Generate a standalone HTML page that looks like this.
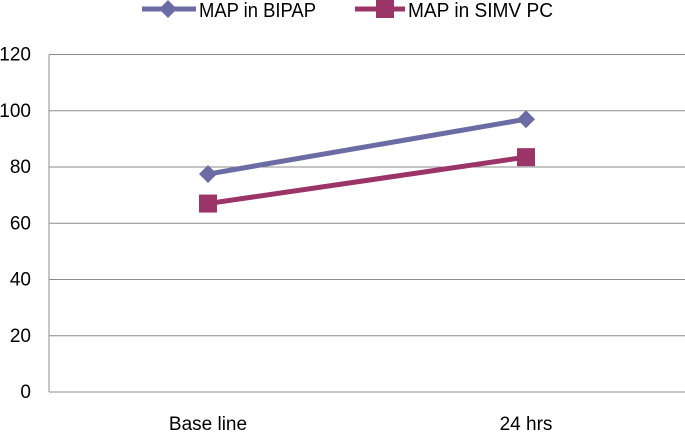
<!DOCTYPE html>
<html><head><meta charset="utf-8"><style>
body{margin:0;background:#fff;}
svg{display:block;font-family:"Liberation Sans",sans-serif;}
</style></head><body>
<svg id="chart" width="685" height="432" viewBox="0 0 685 432" xmlns="http://www.w3.org/2000/svg">
<g id="legend">
  <g>
    <line x1="142" y1="9" x2="196" y2="9" stroke="#6B6CA3" stroke-width="5"/>
    <path d="M168 0 L177 9 L168 18 L159 9 Z" fill="#6B6CA3"/>
    <text x="199" y="17" font-size="20" fill="#000" textLength="117" lengthAdjust="spacingAndGlyphs">MAP in BIPAP</text>
  </g>
  <g>
    <line x1="355" y1="9" x2="405" y2="9" stroke="#9B3467" stroke-width="5"/>
    <rect x="376" y="0" width="18" height="18" fill="#9B3467"/>
    <text x="408" y="17" font-size="20" fill="#000" textLength="145" lengthAdjust="spacingAndGlyphs">MAP in SIMV PC</text>
  </g>
</g>
<g id="grid"></g>
<g id="series"></g>
</svg>
<script>
const categories = ["Base line", "24 hrs"];
const bipapValues = [77.5, 97];
const simvValues = [67, 83.5];
const yTicks = [0, 20, 40, 60, 80, 100, 120];

const plotLeft = 49, plotRight = 685, plotTop = 54.5, plotBottom = 392;
const yMax = 120;
function yScale(v){ return plotBottom - (v / yMax) * (plotBottom - plotTop); }
function xScale(i){ return plotLeft + (i + 0.5) * (plotRight - plotLeft) / categories.length; }
const NS = "http://www.w3.org/2000/svg";
function mk(tag, attrs, parent){
  const e = document.createElementNS(NS, tag);
  for (const k in attrs) e.setAttribute(k, attrs[k]);
  parent.appendChild(e); return e;
}
const grid = document.getElementById("grid");
yTicks.forEach(t => {
  const y = yScale(t);
  const gl = mk("line", {x1: plotLeft, x2: plotRight, y1: y, y2: y, stroke: "#8c8c8c", "stroke-width": 1}, grid);
  
  
  const lb = mk("text", {x: 31, y: y + 6, "text-anchor": "end", "font-size": 19, fill: "#000"}, grid);
  lb.textContent = t;
  
  
});
const axis = mk("line", {x1: plotLeft, x2: plotLeft, y1: plotTop, y2: plotBottom, stroke: "#8c8c8c", "stroke-width": 1}, grid);


categories.forEach((c, i) => {
  const lb = mk("text", {x: xScale(i), y: 430, "text-anchor": "middle", "font-size": 19, fill: "#000"}, grid);
  lb.textContent = c;
  
  
});
const series = document.getElementById("series");
function drawSeries(vals, color, shape, name){
  const pts = vals.map((v, i) => xScale(i) + "," + yScale(v)).join(" ");
  const pl = mk("polyline", {points: pts, fill: "none", stroke: color, "stroke-width": 5}, series);
  
  
  vals.forEach((v, i) => {
    const x = xScale(i), y = yScale(v);
    let m;
    if (shape === "diamond") m = mk("path", {d: `M${x} ${y-9} L${x+9} ${y} L${x} ${y+9} L${x-9} ${y} Z`, fill: color}, series);
    else m = mk("rect", {x: x-9, y: y-9, width: 18, height: 18, fill: color}, series);
    
    
  });
}
drawSeries(bipapValues, "#6B6CA3", "diamond", "bipap");
drawSeries(simvValues, "#9B3467", "square", "simv");
</script>
</body></html>
